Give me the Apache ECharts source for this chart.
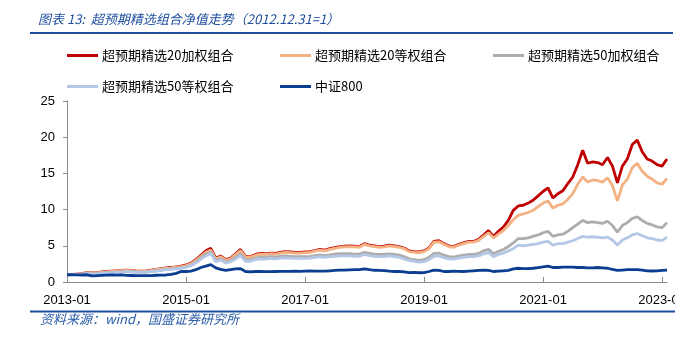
<!DOCTYPE html>
<html>
<head>
<meta charset="utf-8">
<script src="https://cdn.jsdelivr.net/npm/echarts@6/dist/echarts.min.js"></script>
<style>
html,body{margin:0;padding:0;background:#fff;}
#c{width:675px;height:342px;overflow:hidden;}
</style>
</head>
<body>
<div id="c"></div>
<script>
// month index 0 = 2013-01 ... 120 = 2023-01, 121 = 2023-02
var names = ['超预期精选20加权组合','超预期精选20等权组合','超预期精选50加权组合','超预期精选50等权组合','中证800'];
var xTickValues = [0,24,48,72,96,120];
var yTicks = [0,5,10,15,20,25];

var s20w = [1.0,1.05,1.1,1.15,1.3,1.25,1.3,1.4,1.45,1.5,1.55,1.6,
1.65,1.6,1.55,1.5,1.55,1.65,1.75,1.85,1.95,2.0,2.1,2.2,
2.35,2.6,3.1,3.7,4.3,4.65,3.3,3.6,3.1,3.3,3.9,4.5,
3.5,3.5,3.8,3.95,3.9,4.0,3.95,4.1,4.2,4.15,4.1,4.1,
4.15,4.2,4.35,4.5,4.4,4.6,4.75,4.9,4.95,5.0,4.95,4.9,
5.3,5.1,5.0,4.9,4.95,5.1,5.0,4.9,4.7,4.3,4.2,4.15,
4.3,4.7,5.6,5.7,5.3,5.0,4.9,5.2,5.4,5.6,5.6,5.9,
6.5,7.1,6.3,7.0,7.6,8.5,9.9,10.5,10.6,10.9,11.3,11.9,
12.5,13.0,11.6,12.2,12.6,13.6,14.5,16.2,18.2,16.4,16.6,16.5,
16.2,17.2,16.0,13.7,16.0,17.0,19.0,19.6,18.0,17.0,16.7,16.2,
16.0,17.0];

var s20e = [1.0,1.04,1.08,1.13,1.26,1.22,1.27,1.36,1.41,1.46,1.51,1.56,
1.6,1.56,1.51,1.46,1.51,1.6,1.7,1.8,1.9,1.94,2.04,2.13,
2.28,2.52,2.98,3.55,4.1,4.4,3.2,3.5,3.0,3.2,3.8,4.35,
3.4,3.42,3.7,3.85,3.8,3.9,3.85,4.0,4.1,4.05,4.0,4.0,
4.05,4.1,4.25,4.4,4.3,4.5,4.65,4.8,4.85,4.9,4.85,4.8,
5.2,5.0,4.9,4.8,4.85,5.0,4.9,4.8,4.6,4.2,4.1,4.05,
4.2,4.6,5.5,5.55,5.2,4.9,4.8,5.1,5.3,5.5,5.5,5.75,
6.3,6.8,6.1,6.6,7.1,7.8,8.6,9.2,9.4,9.6,9.9,10.4,
10.9,11.2,10.2,10.6,10.8,11.4,12.2,13.5,14.5,13.8,14.1,14.0,
13.8,14.4,13.3,11.2,13.4,14.2,15.8,16.4,15.3,14.6,14.2,13.7,
13.5,14.3];

var s50w = [1.0,1.03,1.06,1.08,1.18,1.12,1.15,1.25,1.3,1.33,1.37,1.4,
1.45,1.42,1.38,1.35,1.38,1.48,1.55,1.65,1.75,1.8,1.88,1.95,
2.1,2.3,2.75,3.3,3.8,4.1,2.95,3.2,2.75,2.95,3.4,3.9,
3.05,3.05,3.3,3.45,3.4,3.5,3.45,3.55,3.6,3.55,3.5,3.5,
3.5,3.55,3.65,3.75,3.65,3.75,3.85,3.9,3.9,3.9,3.85,3.85,
4.1,3.95,3.85,3.8,3.8,3.9,3.8,3.7,3.5,3.2,3.1,3.0,
3.1,3.4,3.95,4.0,3.7,3.5,3.45,3.6,3.7,3.8,3.8,3.95,
4.3,4.5,3.9,4.2,4.5,4.9,5.4,6.0,6.0,6.1,6.3,6.5,
6.8,7.0,6.3,6.5,6.6,7.0,7.5,8.0,8.5,8.2,8.3,8.2,
8.1,8.4,7.8,6.9,7.8,8.2,8.8,9.0,8.5,8.1,7.9,7.6,
7.5,8.2];

var s50e = [1.0,1.02,1.05,1.07,1.15,1.1,1.13,1.22,1.27,1.3,1.33,1.37,
1.42,1.38,1.35,1.32,1.35,1.45,1.52,1.6,1.7,1.75,1.82,1.9,
2.05,2.25,2.65,3.15,3.6,3.95,2.8,3.05,2.6,2.8,3.2,3.65,
2.85,2.85,3.1,3.2,3.15,3.25,3.2,3.3,3.35,3.3,3.25,3.27,
3.27,3.3,3.4,3.5,3.4,3.5,3.55,3.6,3.6,3.6,3.55,3.55,
3.8,3.65,3.55,3.5,3.5,3.6,3.5,3.4,3.2,2.95,2.85,2.75,
2.8,3.1,3.55,3.6,3.35,3.2,3.15,3.3,3.4,3.5,3.5,3.6,
3.9,4.05,3.5,3.8,4.0,4.3,4.6,5.1,5.0,5.1,5.2,5.3,
5.5,5.6,5.1,5.3,5.3,5.5,5.7,6.0,6.3,6.2,6.25,6.2,
6.1,6.2,5.8,5.1,5.8,6.1,6.5,6.7,6.4,6.1,6.0,5.8,
5.7,6.2];

var csi800 = [1.0,1.02,0.98,0.97,1.0,0.85,0.87,0.92,0.95,0.97,0.95,0.97,
0.92,0.9,0.88,0.88,0.87,0.88,0.93,0.95,0.97,1.05,1.2,1.45,
1.45,1.5,1.7,2.0,2.2,2.4,1.95,1.75,1.6,1.7,1.8,1.85,
1.45,1.4,1.45,1.45,1.42,1.43,1.45,1.47,1.48,1.47,1.5,1.48,
1.5,1.52,1.5,1.5,1.5,1.55,1.6,1.63,1.65,1.68,1.7,1.7,
1.8,1.7,1.62,1.6,1.58,1.5,1.45,1.45,1.4,1.3,1.32,1.28,
1.3,1.45,1.65,1.6,1.45,1.45,1.5,1.48,1.45,1.5,1.55,1.6,
1.65,1.6,1.45,1.5,1.55,1.6,1.8,1.9,1.85,1.85,1.9,2.0,
2.1,2.2,2.0,2.0,2.05,2.05,2.05,2.0,2.0,1.95,1.95,2.0,
1.95,1.9,1.75,1.6,1.65,1.7,1.72,1.7,1.65,1.55,1.52,1.55,
1.6,1.65];

var colors = ['#C00000','#F4B183','#ADADAD','#B4C7E7','#0B3D91'];
var seriesData = [s20w, s20e, s50w, s50e, csi800];

function toPts(arr){ return arr.map(function(v,i){ return [i, v]; }); }

var chart = echarts.init(document.getElementById('c'), null, {renderer:'canvas'});
var cjk = '"Noto Sans CJK SC", sans-serif';
var legendPos = [[62,44],[275,44],[488,44],[62,75],[275,75]];

var option = {
  animation: false,
  backgroundColor: '#fff',
  grid: {left: 67, right: 8, top: 101, bottom: 60, containLabel: false, outerBoundsMode: 'none'},
  legend: names.map(function(n, i){
    return {
      data: [n], left: legendPos[i][0], top: legendPos[i][1],
      icon: 'rect', itemWidth: 31, itemHeight: 3, itemGap: 0,
      textStyle: {fontFamily: cjk, fontSize: 13, color: '#000', padding: [0,0,0,-1]},
      selectedMode: false
    };
  }),
  xAxis: {
    type: 'value', min: 0, max: 121, interval: 24,
    splitLine: {show: false},
    axisLine: {show: true, lineStyle: {color: '#8c8c8c', width: 1}},
    axisTick: {show: true, inside: true, length: 5, customValues: xTickValues, lineStyle: {color: '#8c8c8c'}},
    axisLabel: {
      customValues: xTickValues, margin: 12, alignMaxLabel: 'center', alignMinLabel: 'center',
      hideOverlap: false,
      fontFamily: 'Liberation Sans', fontSize: 13, color: '#000',
      formatter: function(v){ return (2013 + Math.round(v/12)) + '-01'; }
    }
  },
  yAxis: {
    type: 'value', min: 0, max: 25, interval: 5,
    splitLine: {show: false},
    axisLine: {show: true, lineStyle: {color: '#8c8c8c', width: 1}},
    axisTick: {show: true, inside: false, length: 4, lineStyle: {color: '#8c8c8c'}},
    axisLabel: {margin: 12, fontFamily: 'Liberation Sans', fontSize: 13, color: '#000'}
  },
  series: names.map(function(n, i){
    return {
      name: n, type: 'line', data: toPts(seriesData[i]),
      symbol: 'none', smooth: false,
      lineStyle: {color: colors[i], width: 2.8},
      itemStyle: {color: colors[i]},
      z: 2 + i
    };
  }),
  graphic: [
    {type: 'text', left: 38, top: 13, style: {text: '图表 13:  超预期精选组合净值走势（2012.12.31=1）', font: 'italic 13px "Noto Sans CJK SC", sans-serif', fill: '#1F4E9E'}},
    {type: 'line', shape: {x1: 30, y1: 33, x2: 673, y2: 33}, style: {stroke: '#1F4E9E', lineWidth: 2}},
    {type: 'line', shape: {x1: 30, y1: 311.5, x2: 675, y2: 311.5}, style: {stroke: '#1F4E9E', lineWidth: 2}},
    {type: 'text', left: 40, top: 313, style: {text: '资料来源：wind，国盛证券研究所', font: 'italic 13px "Noto Sans CJK SC", sans-serif', fill: '#2A5CAA'}}
  ]
};
chart.setOption(option);
</script>
</body>
</html>
